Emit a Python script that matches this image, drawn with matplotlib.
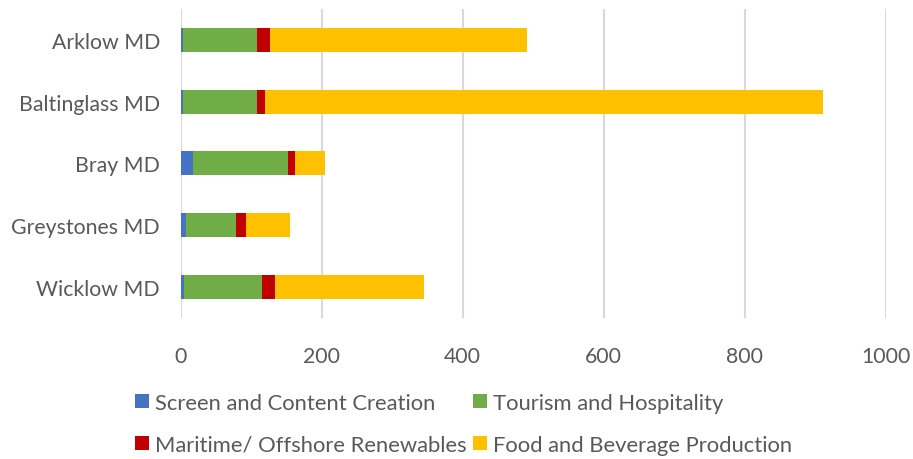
import numpy as np
import matplotlib.pyplot as plt

# municipal districts and sector counts
districts = ['Arklow MD', 'Baltinglass MD', 'Bray MD', 'Greystones MD', 'Wicklow MD']
screen = [3, 3, 18, 7, 5]
tourism = [105, 105, 134, 72, 110]
maritime = [18, 12, 10, 13, 18]
food = [365, 791, 42, 63, 212]

series = [
    ('Screen and Content Creation', screen, '#4472C4'),
    ('Tourism and Hospitality', tourism, '#70AD47'),
    ('Maritime/ Offshore Renewables', maritime, '#C00000'),
    ('Food and Beverage Production', food, '#FFC000'),
]

plt.rcParams['font.family'] = ['Lato', 'DejaVu Sans']
text_col = '#595959'

fig = plt.figure(figsize=(9.13, 4.6), dpi=100)
ax = fig.add_axes([0.198, 0.307, 0.772, 0.671])

y = np.arange(len(districts))
left = np.zeros(len(districts))
bars = {}
for name, vals, col in series:
    bars[name] = ax.barh(y, vals, left=left, height=0.39, color=col, label=name, zorder=3)
    left += np.array(vals)

ax.set_xlim(0, 1000)
ax.set_ylim(len(districts) - 0.5, -0.5)
ax.set_xticks(range(0, 1001, 200))
ax.set_yticks(y)
ax.set_yticklabels(districts)
ax.grid(axis='x', color='#D9D9D9', linewidth=1.5, zorder=0)
for s in ax.spines.values():
    s.set_visible(False)
ax.tick_params(length=0, labelsize=15.3, colors=text_col)
ax.tick_params(axis='x', pad=20)
ax.tick_params(axis='y', pad=15)

# legend laid out two per row
order = ['Screen and Content Creation', 'Maritime/ Offshore Renewables',
         'Tourism and Hospitality', 'Food and Beverage Production']
leg = fig.legend([bars[k] for k in order], order, ncol=2, loc='center',
                 bbox_to_anchor=(0.508, 0.077), frameon=False, fontsize=15.8,
                 handlelength=0.6, handleheight=0.6, handletextpad=0.3,
                 columnspacing=0.3, labelspacing=1.0)
for t in leg.get_texts():
    t.set_color(text_col)

fig.savefig('out.png', dpi=100)
